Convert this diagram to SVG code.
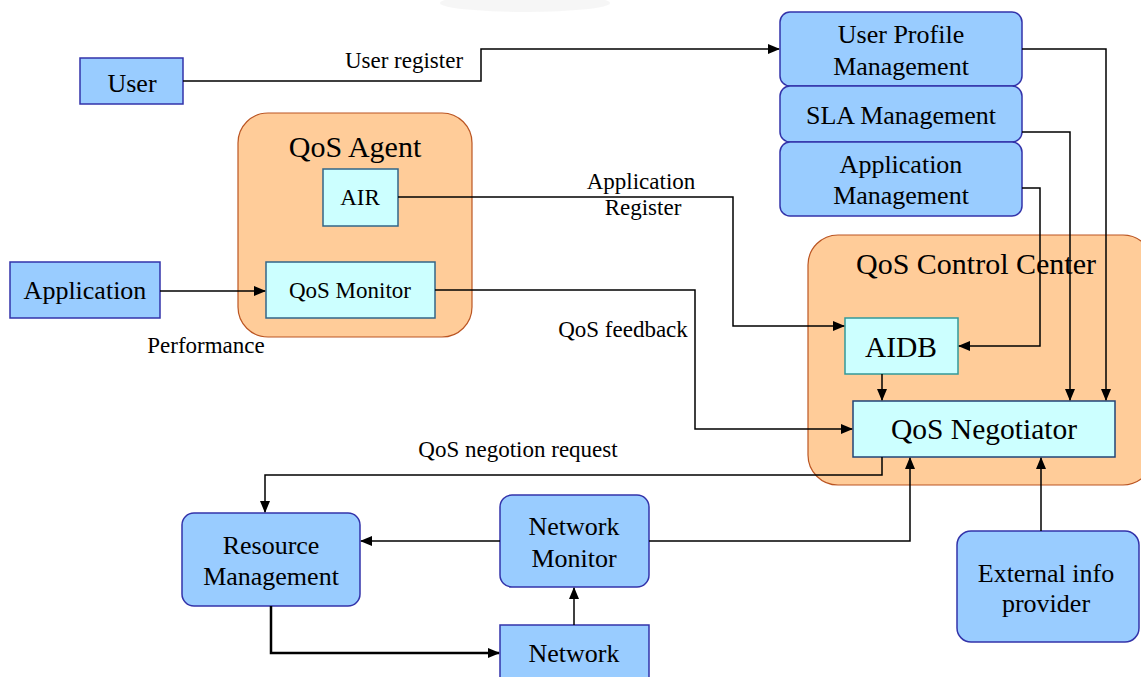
<svg xmlns="http://www.w3.org/2000/svg" width="1141" height="677" viewBox="0 0 1141 677">
<style>
text{font-family:"Liberation Serif","Times New Roman",serif;fill:#000;text-anchor:middle}
.blue{fill:#99ccff;stroke:#3333aa;stroke-width:1.5}
.cyan{fill:#ccffff;stroke:#336688;stroke-width:1.5}
.org{fill:#ffcc99;stroke:#bb5522;stroke-width:1.2}
.c{fill:none;stroke:#000;stroke-width:1.5;marker-end:url(#ah)}
.t22{font-size:26px}
.t18{font-size:23px}
.t26{font-size:30px}
.t24{font-size:29.5px}
</style>
<defs>
<marker id="ah" markerUnits="userSpaceOnUse" markerWidth="12" markerHeight="10" refX="11" refY="5" orient="auto">
<path d="M0,0 L12,5 L0,10 Z" fill="#000"/>
</marker>
</defs>
<rect width="1141" height="677" fill="#fff"/>
<ellipse cx="525" cy="3" rx="85" ry="9" fill="#eeeeee" opacity="0.5"/>

<g id="qos-agent"><rect class="org" x="238" y="113" width="234" height="224" rx="30"/><text class="t26" x="355" y="157">QoS Agent</text></g>
<g id="qos-control-center"><rect class="org" x="808" y="235" width="345" height="250" rx="30"/><text class="t26" x="976" y="274">QoS Control Center</text></g>

<g id="user"><rect class="blue" x="80" y="58" width="103" height="46"/><text class="t22" x="132" y="92">User</text></g>
<g id="user-profile"><rect class="blue" x="780" y="12" width="242" height="74" rx="10"/><text class="t22" x="901" y="43">User Profile</text><text class="t22" x="901" y="75">Management</text></g>
<g id="sla"><rect class="blue" x="780" y="86" width="242" height="56" rx="10"/><text class="t22" x="901" y="124">SLA Management</text></g>
<g id="app-mgmt"><rect class="blue" x="780" y="142" width="242" height="74" rx="10"/><text class="t22" x="901" y="173">Application</text><text class="t22" x="901" y="204">Management</text></g>
<g id="air"><rect class="cyan" x="323" y="169" width="75" height="57"/><text class="t18" x="360" y="205">AIR</text></g>
<g id="qos-monitor"><rect class="cyan" x="266" y="262" width="169" height="56"/><text class="t18" x="350" y="298">QoS Monitor</text></g>
<g id="application"><rect class="blue" x="10" y="262" width="150" height="56"/><text class="t22" x="85" y="299">Application</text></g>
<g id="aidb"><rect class="cyan" x="845" y="318" width="113" height="56" style="stroke:#339999"/><text class="t24" x="901" y="357">AIDB</text></g>
<g id="qos-negotiator"><rect class="cyan" x="853" y="401" width="262" height="56" style="stroke:#224477"/><text class="t24" x="984" y="439">QoS Negotiator</text></g>
<g id="external"><rect class="blue" x="957" y="531" width="182" height="111" rx="14"/><text class="t22" x="1046" y="582">External info</text><text class="t22" x="1046" y="612">provider</text></g>
<g id="resource"><rect class="blue" x="182" y="513" width="178" height="93" rx="12"/><text class="t22" x="271" y="554">Resource</text><text class="t22" x="271" y="585">Management</text></g>
<g id="network-monitor"><rect class="blue" x="500" y="495" width="149" height="92" rx="12"/><text class="t22" x="574" y="535">Network</text><text class="t22" x="574" y="567">Monitor</text></g>
<g id="network"><rect class="blue" x="500" y="625" width="149" height="60"/><text class="t22" x="574" y="662">Network</text></g>

<g id="connectors">
<path class="c" d="M183,81 H481 V49 H779"/>
<path class="c" d="M1022,49 H1106 V400"/>
<path class="c" d="M1022,132 H1070 V400"/>
<path class="c" d="M1022,188 H1040 V346 H959"/>
<path class="c" d="M398,197 H733 V326 H844"/>
<path class="c" d="M160,291 H265"/>
<path class="c" d="M435,290 H695 V429 H852"/>
<path class="c" d="M882,374 V400"/>
<path class="c" d="M882,457 V475 H265 V512"/>
<path class="c" d="M649,541 H910 V458"/>
<path class="c" d="M1041,531 V458"/>
<path class="c" d="M500,541 H361"/>
<path class="c" d="M574,625 V588"/>
<path class="c" d="M271,606 V653 H499" style="stroke-width:2.5"/>
</g>

<g id="labels">
<text class="t18" x="404" y="68">User register</text>
<text class="t18" x="641" y="189">Application</text>
<text class="t18" x="643" y="215">Register</text>
<text class="t18" x="206" y="353">Performance</text>
<text class="t18" x="623" y="337">QoS feedback</text>
<text class="t18" x="518" y="457">QoS negotion request</text>
</g>
</svg>
